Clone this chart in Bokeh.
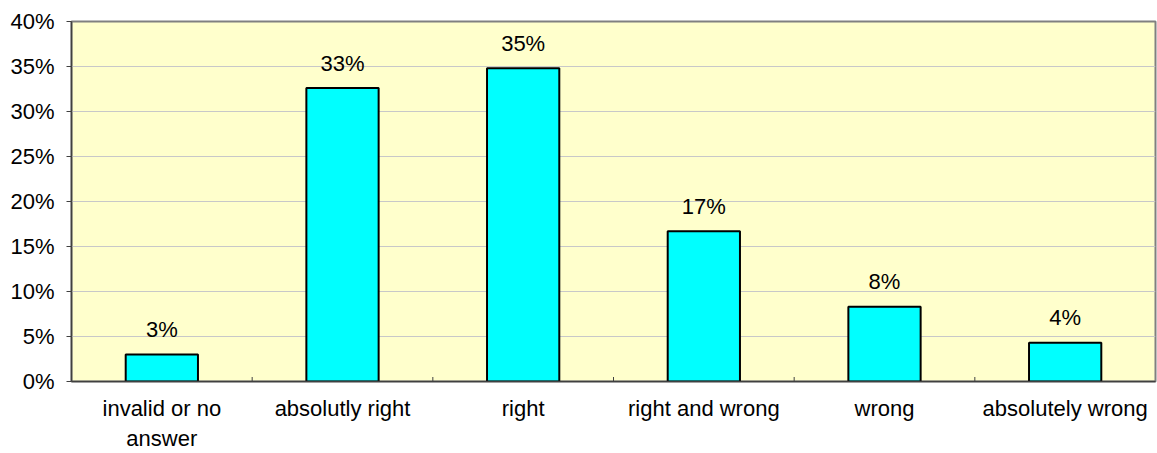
import math
from bokeh.plotting import figure
from bokeh.models import Range1d, FixedTicker, PrintfTickFormatter, ColumnDataSource
from bokeh.core.properties import value
from bokeh.embed import file_html
from bokeh.resources import INLINE

categories = ["invalid or no\nanswer", "absolutly right", "right", "right and wrong", "wrong", "absolutely wrong"]
values = [3.0, 32.6, 34.8, 16.7, 8.3, 4.3]
labels = ["3%", "33%", "35%", "17%", "8%", "4%"]
y_ticks = [0, 5, 10, 15, 20, 25, 30, 35, 40]

n = len(categories)
centers = [i + 0.5 for i in range(n)]
boundaries = [float(i) for i in range(1, n)]

FONT = "Liberation Sans"
FS = "22px"

p = figure(width=1157, height=453, output_backend="svg", toolbar_location=None,
           x_range=Range1d(0, n), y_range=Range1d(0, 40),
           min_border_left=71, min_border_right=2, min_border_top=21, min_border_bottom=10)

p.background_fill_color = "#FFFFCC"
p.border_fill_color = "white"
p.outline_line_color = "#808080"
p.outline_line_width = 2

src = ColumnDataSource(dict(x=centers, top=values, label=labels))
p.vbar(x="x", top="top", bottom=0, width=0.4, source=src,
       fill_color="#00FFFF", line_color="black", line_width=2)
p.text(x="x", y="top", text="label", source=src, text_align="center",
       text_baseline="alphabetic", y_offset=-25,
       text_font=value(FONT), text_font_size=FS, text_color="black")

# category boundary tick marks on the baseline
p.scatter(x=boundaries, y=[0] * len(boundaries), marker="dash", angle=math.pi / 2,
          size=9, line_color="#404040", line_width=1)

# grid
p.xgrid.visible = False
p.ygrid.ticker = FixedTicker(ticks=y_ticks)
p.ygrid.grid_line_color = "#C8C8C8"
p.ygrid.grid_line_width = 1

# y axis
ya = p.yaxis[0]
ya.ticker = FixedTicker(ticks=y_ticks)
ya.formatter = PrintfTickFormatter(format="%d%%")
ya.major_label_text_font = FONT
ya.major_label_text_font_size = FS
ya.major_label_text_color = "black"
ya.axis_line_color = "#404040"
ya.axis_line_width = 1.5
ya.major_tick_in = 0
ya.major_tick_out = 5
ya.major_tick_line_color = "#404040"
ya.minor_tick_line_color = None
ya.major_label_standoff = 12

# x axis
xa = p.xaxis[0]
xa.ticker = FixedTicker(ticks=centers)
xa.major_label_overrides = {c: cat for c, cat in zip(centers, categories)}
xa.major_label_text_font = FONT
xa.major_label_text_font_size = FS
xa.major_label_text_color = "black"
xa.axis_line_color = "#404040"
xa.axis_line_width = 1.5
xa.major_tick_line_color = None
xa.minor_tick_line_color = None
xa.major_label_standoff = 8

open("out.html", "w").write(file_html(p, INLINE))
